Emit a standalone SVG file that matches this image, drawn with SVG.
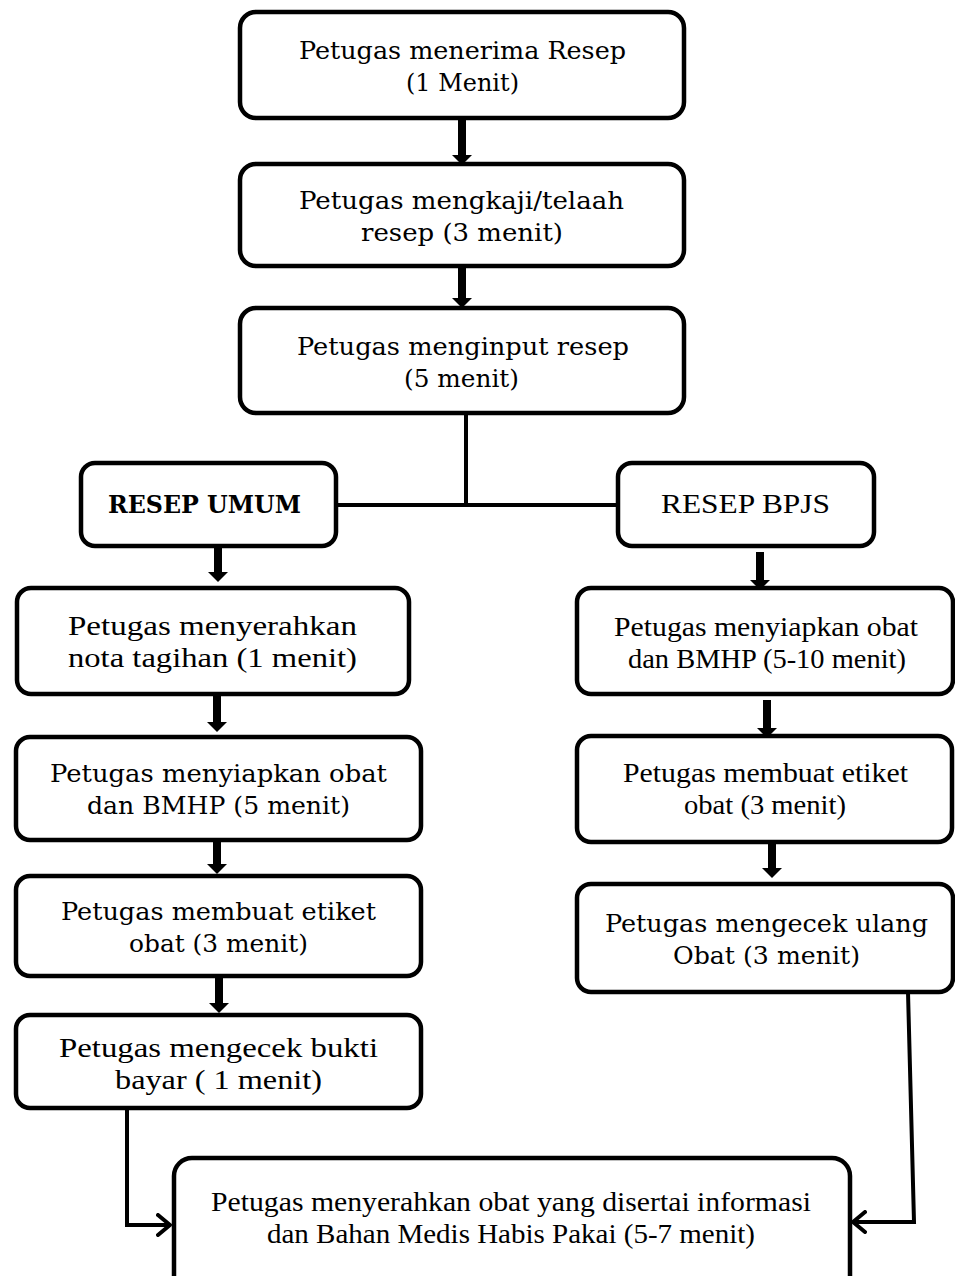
<svg xmlns="http://www.w3.org/2000/svg" width="955" height="1276" viewBox="0 0 955 1276">
<style>
.box{fill:#fff;stroke:#000;stroke-width:4.5}
.bk{font-family:"DejaVu Serif","Liberation Serif",serif;font-size:25px;fill:#000;text-anchor:start}
.pl{font-family:"Liberation Serif","DejaVu Serif",serif;font-size:27px;fill:#000;text-anchor:start}
.thick{stroke:#000;stroke-width:8;fill:none}
.thin{stroke:#000;stroke-width:4;fill:none}
</style>
<defs>
<marker id="head" viewBox="0 0 10 20" refX="0" refY="10" markerWidth="10" markerHeight="20" markerUnits="userSpaceOnUse" orient="auto">
<path d="M0,0 L10,10 L0,20 z" fill="#000"/>
</marker>
<marker id="chev" viewBox="0 0 16 24" refX="14" refY="12" markerWidth="16" markerHeight="24" markerUnits="userSpaceOnUse" orient="auto">
<path d="M2,2 L14,12 L2,22" fill="none" stroke="#000" stroke-width="4" stroke-linecap="round" stroke-linejoin="round"/>
</marker>
</defs>

<g id="connectors">
<line class="thick" x1="462" y1="118" x2="462" y2="155" marker-end="url(#head)"/>
<line class="thick" x1="462" y1="267" x2="462" y2="298" marker-end="url(#head)"/>
<line class="thin" x1="466" y1="413" x2="466" y2="505"/>
<line class="thin" x1="336" y1="505" x2="618" y2="505"/>
<line class="thick" x1="218" y1="547" x2="218" y2="572" marker-end="url(#head)"/>
<line class="thick" x1="760" y1="552" x2="760" y2="580" marker-end="url(#head)"/>
<line class="thick" x1="217" y1="695" x2="217" y2="722" marker-end="url(#head)"/>
<line class="thick" x1="767" y1="700" x2="767" y2="728" marker-end="url(#head)"/>
<line class="thick" x1="217" y1="840" x2="217" y2="864" marker-end="url(#head)"/>
<line class="thick" x1="772" y1="843" x2="772" y2="868" marker-end="url(#head)"/>
<line class="thick" x1="219" y1="977" x2="219" y2="1003" marker-end="url(#head)"/>
<polyline class="thin" points="127,1108 127,1225 170,1225" marker-end="url(#chev)"/>
<polyline class="thin" points="908,992 914,1222 853,1222" marker-end="url(#chev)"/>
</g>

<g id="n1">
<rect class="box" x="240" y="12" width="444" height="106" rx="16"/>
<text class="bk" x="299" y="59" textLength="327" lengthAdjust="spacingAndGlyphs">Petugas menerima Resep</text>
<text class="bk" x="406" y="91" textLength="113" lengthAdjust="spacingAndGlyphs">(1 Menit)</text>
</g>
<g id="n2">
<rect class="box" x="240" y="164" width="444" height="102" rx="16"/>
<text class="bk" x="299" y="209" textLength="325" lengthAdjust="spacingAndGlyphs">Petugas mengkaji/telaah</text>
<text class="bk" x="361" y="241" textLength="202" lengthAdjust="spacingAndGlyphs">resep  (3 menit)</text>
</g>
<g id="n3">
<rect class="box" x="240" y="308" width="444" height="105" rx="16"/>
<text class="bk" x="297" y="355" textLength="332" lengthAdjust="spacingAndGlyphs">Petugas menginput resep</text>
<text class="bk" x="404" y="387" textLength="115" lengthAdjust="spacingAndGlyphs">(5 menit)</text>
</g>
<g id="umum">
<rect class="box" x="81" y="463" width="255" height="83" rx="14"/>
<text class="bk" x="108" y="513" font-weight="bold" textLength="193" lengthAdjust="spacingAndGlyphs">RESEP UMUM</text>
</g>
<g id="bpjs">
<rect class="box" x="618" y="463" width="256" height="83" rx="14"/>
<text class="pl" x="661" y="513" textLength="169" lengthAdjust="spacingAndGlyphs">RESEP BPJS</text>
</g>
<g id="l1">
<rect class="box" x="17" y="588" width="392" height="106" rx="14"/>
<text class="pl" x="68" y="635" textLength="289" lengthAdjust="spacingAndGlyphs">Petugas menyerahkan</text>
<text class="pl" x="68" y="667" textLength="289" lengthAdjust="spacingAndGlyphs">nota tagihan (1 menit)</text>
</g>
<g id="l2">
<rect class="box" x="16" y="737" width="405" height="103" rx="14"/>
<text class="bk" x="50" y="782" textLength="337" lengthAdjust="spacingAndGlyphs">Petugas menyiapkan obat</text>
<text class="bk" x="87" y="814" textLength="263" lengthAdjust="spacingAndGlyphs">dan BMHP (5 menit)</text>
</g>
<g id="l3">
<rect class="box" x="16" y="876" width="405" height="100" rx="14"/>
<text class="bk" x="61" y="920" textLength="315" lengthAdjust="spacingAndGlyphs">Petugas membuat etiket</text>
<text class="bk" x="129" y="952" textLength="179" lengthAdjust="spacingAndGlyphs">obat (3 menit)</text>
</g>
<g id="l4">
<rect class="box" x="16" y="1015" width="405" height="93" rx="14"/>
<text class="pl" x="59" y="1057" textLength="319" lengthAdjust="spacingAndGlyphs">Petugas mengecek bukti</text>
<text class="pl" x="115" y="1089" textLength="207" lengthAdjust="spacingAndGlyphs">bayar ( 1 menit)</text>
</g>
<g id="r1">
<rect class="box" x="577" y="588" width="376" height="106" rx="14"/>
<text class="pl" x="614" y="636" textLength="304" lengthAdjust="spacingAndGlyphs">Petugas menyiapkan obat</text>
<text class="pl" x="628" y="668" textLength="278" lengthAdjust="spacingAndGlyphs">dan BMHP (5-10 menit)</text>
</g>
<g id="r2">
<rect class="box" x="577" y="736" width="375" height="106" rx="14"/>
<text class="pl" x="623" y="782" textLength="285" lengthAdjust="spacingAndGlyphs">Petugas membuat etiket</text>
<text class="pl" x="684" y="814" textLength="162" lengthAdjust="spacingAndGlyphs">obat (3 menit)</text>
</g>
<g id="r3">
<rect class="box" x="577" y="884" width="376" height="108" rx="14"/>
<text class="bk" x="605" y="932" textLength="323" lengthAdjust="spacingAndGlyphs">Petugas mengecek ulang</text>
<text class="bk" x="673" y="964" textLength="187" lengthAdjust="spacingAndGlyphs">Obat (3 menit)</text>
</g>
<g id="final">
<rect class="box" x="174" y="1158" width="676" height="140" rx="18"/>
<text class="pl" x="211" y="1211" textLength="600" lengthAdjust="spacingAndGlyphs">Petugas menyerahkan obat yang disertai informasi</text>
<text class="pl" x="267" y="1243" textLength="488" lengthAdjust="spacingAndGlyphs">dan Bahan Medis Habis Pakai (5-7 menit)</text>
</g>
</svg>
